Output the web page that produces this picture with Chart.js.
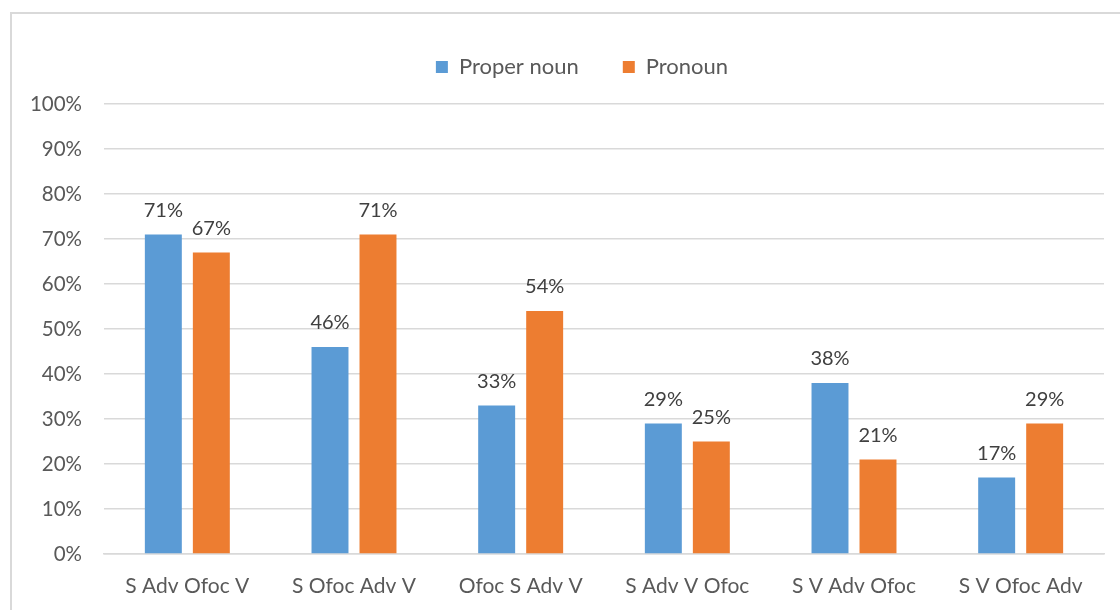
<!DOCTYPE html>
<html>
<head>
<meta charset="utf-8">
<script src="https://cdn.jsdelivr.net/npm/chart.js@4.4.0/dist/chart.umd.min.js"></script>
<style>
  html, body { margin: 0; padding: 0; background: #fff; }
  .wrap { position: relative; width: 1120px; height: 610px; }
  .frame { position: absolute; left: 10px; top: 12px; right: -5px; bottom: -5px; border-left: 2px solid #d9d9d9; border-top: 2px solid #d9d9d9; }
  canvas { position: absolute; left: 0; top: 0; }
</style>
</head>
<body>
<div class="wrap">
  <div class="frame"></div>
  <canvas id="chart" width="1120" height="610"></canvas>
</div>
<script>
const categories = ['S Adv Ofoc V', 'S Ofoc Adv V', 'Ofoc S Adv V', 'S Adv V Ofoc', 'S V Adv Ofoc', 'S V Ofoc Adv'];
const properNoun = [71, 46, 33, 29, 38, 17];
const pronoun = [67, 71, 54, 25, 21, 29];
const seriesNames = ['Proper noun', 'Pronoun'];

const fontFamily = 'Lato, "Open Sans", sans-serif';

// draws the percentage above each bar
const barLabels = {
  id: 'barLabels',
  afterDatasetsDraw(chart) {
    const ctx = chart.ctx;
    ctx.save();
    ctx.font = '20px ' + fontFamily;
    ctx.fillStyle = '#404040';
    ctx.textAlign = 'center';
    ctx.textBaseline = 'bottom';
    chart.data.datasets.forEach((ds, i) => {
      chart.getDatasetMeta(i).data.forEach((bar, j) => {
        ctx.fillText(ds.data[j] + '%', bar.x, bar.y - 14);
      });
    });
    ctx.restore();
  }
};

const chart = new Chart(document.getElementById('chart'), {
  type: 'bar',
  data: {
    labels: categories,
    datasets: [
      { label: seriesNames[0], data: properNoun, backgroundColor: '#5B9BD5' },
      { label: seriesNames[1], data: pronoun, backgroundColor: '#ED7D31' }
    ]
  },
  options: {
    responsive: false,
    animation: false,
    devicePixelRatio: 1,
    categoryPercentage: 0.576,
    barPercentage: 0.77,
    layout: { padding: { left: 10, right: 16, top: 12, bottom: 0 } },
    plugins: {
      tooltip: { enabled: false },
      legend: {
        position: 'top',
        labels: {
          boxWidth: 12,
          boxHeight: 12,
          padding: 44,
          color: '#595959',
          font: { family: fontFamily, size: 22 }
        }
      }
    },
    scales: {
      x: {
        grid: { display: false },
        border: { color: '#d9d9d9', width: 1.5 },
        ticks: { color: '#595959', font: { family: fontFamily, size: 21 }, padding: 12 },
        afterFit(scale) { scale.height = 56; }
      },
      y: {
        min: 0,
        max: 100,
        ticks: {
          stepSize: 10,
          color: '#595959',
          padding: 22,
          font: { family: fontFamily, size: 20.5 },
          callback: v => v + '%'
        },
        grid: { color: '#d9d9d9', lineWidth: 1.5, drawTicks: false },
        border: { display: false },
        afterFit(scale) { scale.width = 94; }
      }
    }
  },
  plugins: [barLabels]
});

// extra room under the legend, and nudge it right like the original
const legendFit = chart.legend.fit;
chart.legend.fit = function () {
  legendFit.call(this);
  this.height += 16;
};
const legendDraw = chart.legend.draw;
chart.legend.draw = function () {
  chart.ctx.save();
  chart.ctx.translate(25, 0);
  legendDraw.call(this);
  chart.ctx.restore();
};
chart.update();
</script>
</body>
</html>
